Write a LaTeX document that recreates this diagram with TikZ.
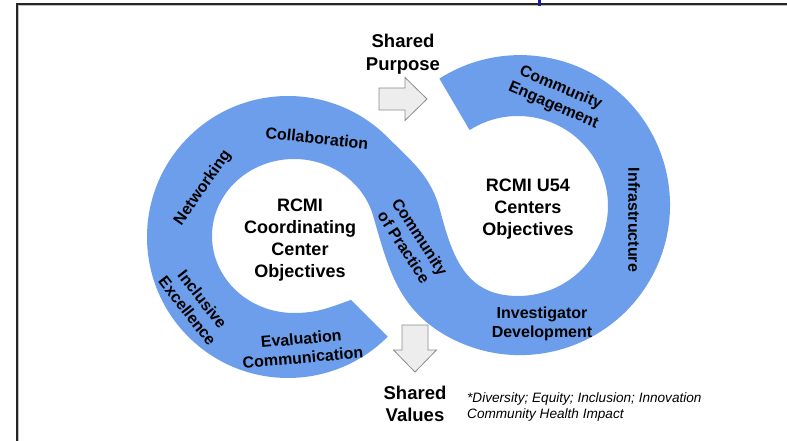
\documentclass[tikz,border=0pt]{standalone}
\usepackage{fontspec}
\setmainfont{Liberation Sans}
\definecolor{ribbon}{HTML}{6D9EEB}
\definecolor{arrowfill}{HTML}{EDEDED}
\definecolor{arrowline}{HTML}{8C8C8C}
\definecolor{tickblue}{HTML}{1C1CA0}
\begin{document}
\begin{tikzpicture}[x=1pt,y=1pt,
  bandtext/.style={font=\bfseries\fontsize{16}{19}\selectfont, align=center, inner sep=0pt},
  hubtext/.style={font=\bfseries\fontsize{18}{22}\selectfont, align=center, inner sep=0pt},
  sharedtext/.style={font=\bfseries\fontsize{18.5}{22.5}\selectfont, align=center, inner sep=0pt},
  notetext/.style={font=\itshape\fontsize{13.6}{16}\selectfont, inner sep=0pt, anchor=base west},
  blockarrow/.style={fill=arrowfill, draw=arrowline, line width=0.8pt, line join=miter}]
\useasboundingbox (0,0) rectangle (787,441);

% frame
\draw[black!85, line width=2pt] (17,0) -- (17,437) -- (787,437);
\draw[black!25, line width=0.8pt] (18.8,0) -- (18.8,435.2) -- (787,435.2);
\fill[tickblue] (537.5,435) rectangle (540.5,441);

% infinity ribbon: left hole, crossing, right ring, right hole, crossing, left ring
\fill[ribbon]
  (350.9,141.1) to[out=200,in=0] (294,128)
  arc[start angle=-90, end angle=-345, x radius=82, y radius=77]
  to[out=-74,in=150] (445,106)
  arc[start angle=240, end angle=482.5, radius=150]
  -- (469.6,310.9)
  arc[start angle=122.5, end angle=-100, radius=90]
  to[out=170,in=-75] (440,231)
  to[out=105,in=-45] (387.7,303.7)
  arc[start angle=45, end angle=315, radius=141]
  -- cycle;

% block arrows
\filldraw[blockarrow] (379,331) -- (405,331) -- (405,320.5) -- (427,342)
  -- (405,363.5) -- (405,353) -- (379,353) -- cycle;
\filldraw[blockarrow] (402,116) -- (428,116) -- (428,91) -- (436.5,91)
  -- (415,69) -- (393.5,91) -- (402,91) -- cycle;

% hub labels
\node[hubtext] (hubL) at (300,200.5) {RCMI\\Coordinating\\Center\\Objectives};
\node[hubtext] (hubR) at (528,231.5) {RCMI U54\\Centers\\Objectives};

% ribbon labels
\node[bandtext, rotate=-6]  (collab)  at (317,303) {Collaboration};
\node[bandtext, rotate=55]  (netw)    at (203,253) {Networking};
\node[bandtext, rotate=-52] (incl)    at (195,136) {Inclusive\\Excellence};
\node[bandtext, rotate=5]   (evalc)   at (302,93)  {Evaluation\\Communication};
\node[bandtext, rotate=-57] (cop)     at (412,199) {Community\\of Practice};
\node[bandtext, rotate=-23] (ceng)    at (557,344) {Community\\Engagement};
\node[bandtext, rotate=-90] (infra)   at (634,221) {Infrastructure};
\node[bandtext]             (invdev)  at (542,117.6) {Investigator\\Development};

% shared labels and note
\node[sharedtext] (purpose) at (403,386.9) {Shared\\Purpose};
\node[sharedtext] (values)  at (415,37.1)  {Shared\\Values};
\node[notetext] (note1) at (467,38) {*Diversity; Equity; Inclusion; Innovation};
\node[notetext] (note2) at (467,22) {Community Health Impact};
\end{tikzpicture}
\end{document}
